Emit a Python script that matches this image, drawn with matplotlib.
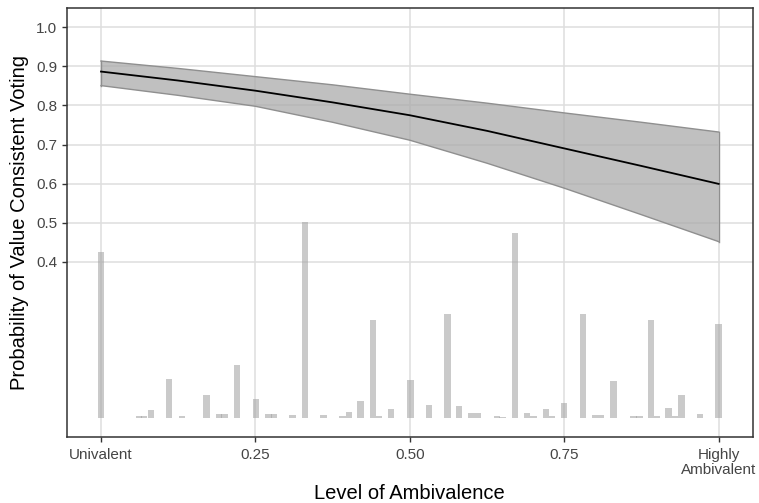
import matplotlib.pyplot as plt
import numpy as np

plt.rcParams['font.family'] = ['Liberation Sans', 'DejaVu Sans']

# Predicted probability curve with confidence band
curve_x = [0.0, 0.125, 0.25, 0.375, 0.5, 0.625, 0.75, 0.875, 1.0]
curve_fit = [0.887, 0.864, 0.838, 0.808, 0.775, 0.735, 0.690, 0.645, 0.599]
curve_upper = [0.914, 0.895, 0.874, 0.853, 0.829, 0.806, 0.781, 0.757, 0.732]
curve_lower = [0.851, 0.826, 0.798, 0.757, 0.711, 0.652, 0.588, 0.520, 0.451]

# Distribution of ambivalence (rug-like histogram at the bottom)
bar_x = [0.000, 0.061, 0.070, 0.081, 0.110, 0.131, 0.171, 0.191, 0.200, 0.220,
         0.251, 0.271, 0.280, 0.310, 0.330, 0.360, 0.391, 0.401, 0.420, 0.440,
         0.450, 0.470, 0.501, 0.531, 0.561, 0.580, 0.600, 0.610, 0.641, 0.650,
         0.670, 0.690, 0.700, 0.720, 0.730, 0.750, 0.780, 0.800, 0.810, 0.830,
         0.862, 0.872, 0.891, 0.900, 0.919, 0.929, 0.940, 0.970, 1.000]
bar_h = [0.424, 0.004, 0.004, 0.019, 0.100, 0.003, 0.057, 0.010, 0.008, 0.135,
         0.047, 0.010, 0.010, 0.007, 0.501, 0.007, 0.003, 0.015, 0.042, 0.251,
         0.003, 0.023, 0.096, 0.032, 0.265, 0.030, 0.012, 0.012, 0.003, 0.002,
         0.473, 0.012, 0.003, 0.021, 0.003, 0.038, 0.265, 0.007, 0.007, 0.094,
         0.003, 0.003, 0.249, 0.003, 0.025, 0.003, 0.058, 0.008, 0.240]

x_ticks = [0, 0.25, 0.5, 0.75, 1.0]
x_labels = ['Univalent', '0.25', '0.50', '0.75', 'Highly\nAmbivalent']
y_ticks = [0.4, 0.5, 0.6, 0.7, 0.8, 0.9, 1.0]

fig = plt.figure(figsize=(7.59, 5.03), dpi=100)
ax = fig.add_axes([0.0879, 0.1312, 0.9041, 0.8529])

grid_col = '#DEDEDE'
for t in x_ticks:
    ax.axvline(t, color=grid_col, linewidth=1.1, zorder=0)
for t in y_ticks:
    ax.axhline(t, color=grid_col, linewidth=1.1, zorder=0)

ax.bar(bar_x, bar_h, width=0.0102, color='#A0A0A0', alpha=0.55,
       linewidth=0, zorder=1)

ax.fill_between(curve_x, curve_lower, curve_upper, facecolor='#ABABAB',
                alpha=0.75, edgecolor='none', zorder=2)
ax.plot(curve_x, curve_upper, color='#8F8F8F', linewidth=1.0, zorder=3)
ax.plot(curve_x, curve_lower, color='#8F8F8F', linewidth=1.0, zorder=3)
ax.plot([0, 0], [curve_lower[0], curve_upper[0]], color='#8F8F8F', linewidth=1.0, zorder=3)
ax.plot([1, 1], [curve_lower[-1], curve_upper[-1]], color='#8F8F8F', linewidth=1.0, zorder=3)
ax.plot(curve_x, curve_fit, color='black', linewidth=1.3, zorder=4)

ax.set_xlim(-0.0555, 1.0555)
ax.set_ylim(-0.05, 1.05)
ax.set_xticks(x_ticks)
ax.set_xticklabels(x_labels, linespacing=1.15)
ax.set_yticks(y_ticks)
ax.set_yticklabels([f'{v:.1f}' for v in y_ticks])
ax.tick_params(axis='both', colors='#333333', labelcolor='#454545',
               labelsize=11, length=3.8, width=1.0)
ax.tick_params(axis='x', pad=4)
ax.tick_params(axis='y', pad=3)

for s in ax.spines.values():
    s.set_color('#333333')
    s.set_linewidth(1.1)

ax.set_xlabel('Level of Ambivalence', fontsize=14.5, labelpad=5)
ax.set_ylabel('Probability of Value Consistent Voting', fontsize=14.5, labelpad=5)

fig.savefig('out.png', dpi=100)
